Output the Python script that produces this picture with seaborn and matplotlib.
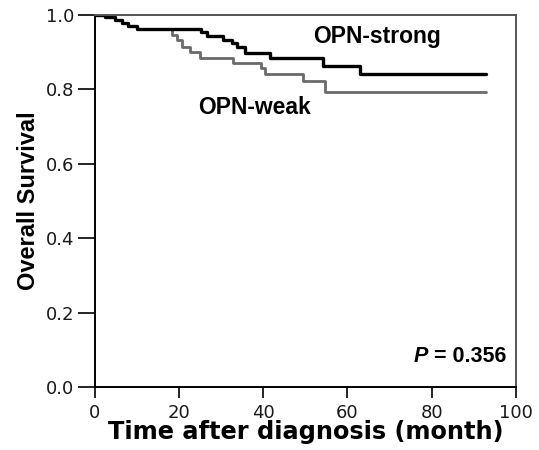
import matplotlib
matplotlib.use("Agg")
import matplotlib.pyplot as plt
import seaborn as sns
import pandas as pd

# Kaplan-Meier step values
strong_time = [0, 2.4, 4.8, 6.4, 7.8, 10.0, 25.2, 26.6, 30.4, 32.5, 33.7, 35.6, 41.6, 54.2, 63.0, 93.0]
strong_surv = [1.0, 0.993, 0.987, 0.979, 0.971, 0.962, 0.954, 0.944, 0.933, 0.925, 0.914, 0.898, 0.884, 0.863, 0.841, 0.841]

weak_time = [0, 2.4, 4.8, 6.4, 7.8, 10.0, 18.3, 19.5, 20.7, 22.6, 25.0, 32.8, 39.4, 40.4, 49.4, 54.6, 93.0]
weak_surv = [1.0, 0.993, 0.987, 0.979, 0.971, 0.962, 0.946, 0.933, 0.914, 0.900, 0.884, 0.871, 0.858, 0.842, 0.822, 0.793, 0.793]

x_ticks = [0, 20, 40, 60, 80, 100]
y_ticks = [0.0, 0.2, 0.4, 0.6, 0.8, 1.0]
y_ticklabels = ["0.0", "0.2", "0.4", "0.6", "0.8", "1.0"]

sns.set_theme(style="ticks")
plt.rcParams['font.family'] = ['DejaVu Sans']
plt.rcParams['text.color'] = 'black'
plt.rcParams['axes.labelcolor'] = 'black'

fig = plt.figure(figsize=(5.39, 4.50), dpi=100)
ax = fig.add_axes([0.176, 0.14, 0.781, 0.827])

df_w = pd.DataFrame({"t": weak_time, "s": weak_surv})
df_s = pd.DataFrame({"t": strong_time, "s": strong_surv})
sns.lineplot(data=df_w, x="t", y="s", estimator=None, drawstyle="steps-post",
             color="#6a6a6a", linewidth=2.0, ax=ax)
sns.lineplot(data=df_s, x="t", y="s", estimator=None, drawstyle="steps-post",
             color="black", linewidth=2.4, ax=ax)

ax.set_xlim(0, 100)
ax.set_ylim(0, 1.0)
ax.set_xticks(x_ticks)
ax.set_yticks(y_ticks)
ax.set_yticklabels(y_ticklabels)
ax.tick_params(axis="x", direction="out", length=8, width=1.2, pad=4, labelsize=13, colors="black")
ax.tick_params(axis="y", direction="out", length=12, width=1.2, pad=3, labelsize=13, colors="black")
for lbl in ax.get_xticklabels() + ax.get_yticklabels():
    lbl.set_color("#1a1a1a")

for side in ["left", "bottom"]:
    ax.spines[side].set_color("black")
    ax.spines[side].set_linewidth(1.4)
for side in ["top", "right"]:
    ax.spines[side].set_visible(True)
    ax.spines[side].set_color("#555555")
    ax.spines[side].set_linewidth(1.4)

ax.set_xlabel("Time after diagnosis (month)", fontsize=17.3, fontweight="bold",
              family="DejaVu Sans", labelpad=-1, color="black")
ax.set_ylabel("Overall Survival", fontsize=17, fontweight="bold",
              family="Liberation Sans", labelpad=4, color="black")

ax.text(51.8, 0.941, "OPN-strong", fontsize=16.5, fontweight="bold",
        family="Liberation Sans", ha="left", va="center", color="black")
ax.text(24.5, 0.75, "OPN-weak", fontsize=16.5, fontweight="bold",
        family="Liberation Sans", ha="left", va="center", color="black")

tp = ax.text(75.8, 0.067, "P", fontsize=15.5, fontweight="bold", fontstyle="italic",
             family="Liberation Sans", ha="left", va="baseline", color="black")
ax.annotate(" = 0.356", xy=(1, 0), xycoords=tp, fontsize=15.5, fontweight="bold",
            family="Liberation Sans", ha="left", va="bottom", color="black")

fig.savefig("out.png", dpi=100)
